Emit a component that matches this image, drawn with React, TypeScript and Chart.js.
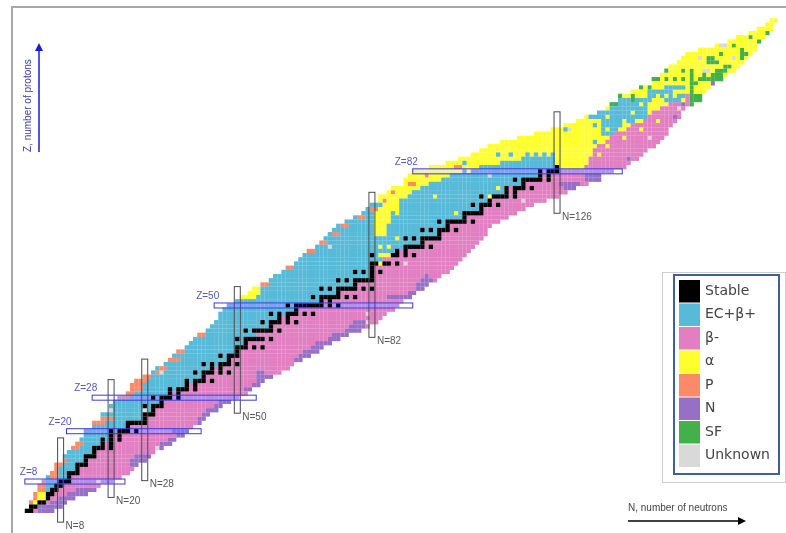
import React, { useEffect, useRef } from "react";
import { Chart, registerables } from "chart.js";

Chart.register(...registerables);

type Run = [number, number, number];

const legendLabels = ["Stable", "EC+β+", "β-", "α", "P", "N", "SF", "Unknown"];
const legendColors = ["#000000", "#56bad8", "#e27fc2", "#ffff2e", "#fb8a68", "#9570c6", "#43b14b", "#d9d9d9"];

// index 0 is Z=1
const nMinByZ = [0,1,1,2,2,3,3,4,5,6,7,7,9,9,10,11,12,13,14,14,16,16,18,18,20,20,21,23,24,25,25,26,28,30,31,33,34,35,36,38,39,40,41,43,44,45,46,46,47,48,50,51,53,54,56,58,59,61,62,64,65,66,67,69,70,71,72,73,74,76,78,80,81,82,84,84,86,87,90,90,91,92,96,100,103,106,108,110,113,117,121,125,128,131,133,136,138,139,141,142,144,147,149,150,151,152,153,155,156,157,160,164,167,169,172,174,176,177];
const nMaxByZ = [6,8,9,11,14,16,17,20,22,24,25,26,28,29,30,32,34,35,37,38,39,41,42,43,45,46,48,50,52,53,55,56,58,60,62,63,65,67,69,70,72,74,76,79,81,83,84,85,87,88,89,91,92,94,95,97,98,100,101,102,103,104,105,106,107,108,109,109,110,112,114,116,118,120,123,126,128,130,133,136,136,139,142,143,145,146,147,149,150,151,152,152,153,154,155,155,156,157,159,160,161,162,163,165,166,168,169,170,171,172,173,173,174,175,176,177,177,178];
const ecLastByZ = [-1,0,2,4,4,5,6,7,9,9,11,11,13,13,15,15,17,19,19,21,23,23,27,27,29,29,31,31,33,35,37,39,41,41,43,45,47,47,49,49,51,51,54,55,57,57,59,61,63,69,69,71,73,73,77,77,81,81,81,81,84,83,88,89,93,93,97,97,99,99,103,103,107,107,109,109,113,113,117,117,121,121,132,133,133,134,134,135,137,138,139,142,143,146,147,148,150,152,154,156,173,173,174,175,176,177,177,178,178,178,178,178,178,178,178,178,178,178];

const stableByZ: number[][] = [
  [0,1],[1,2],[3,4],[5],[5,6],[6,7],[7,8],[8,9,10],[10],[10,11,12],
  [12],[12,13,14],[14],[14,15,16],[16],[16,17,18,20],[18,20],[18,20,22],[20,22],[20,22,23,24,26],
  [24],[24,25,26,27,28],[28],[28,29,30],[30],[28,30,31,32],[32],[30,32,33,34,36],[34,36],[34,36,37,38,40],
  [38,40],[38,40,41,42,44],[42],[40,42,43,44,46,48],[44,46],[42,44,46,47,48,50],[48],[46,48,49,50],[50],[50,51,52,54,56],
  [52],[50,52,53,54,55,56,58],[],[52,54,55,56,57,58,60],[58],[56,58,59,60,62,64],[60,62],[58,60,62,63,64,66,68],[64],[62,64,65,66,67,68,69,70,72,74],
  [70,72],[68,70,71,72,73,74,76,78],[74],[70,72,74,75,76,77,78,80,82],[78],[74,76,78,79,80,81,82],[82],[78,80,82,84],[82],[82,83,85,86,88],
  [],[82,87,88,90,92],[88,90],[90,91,92,93,94,96],[94],[90,92,94,95,96,97,98],[98],[94,96,98,99,100,102],[100],[98,100,101,102,103,104,106],
  [104],[104,105,106,107,108],[108],[106,108,109,110,112],[110],[108,111,112,113,114,116],[114,116],[114,116,117,118,120],[118],[116,118,119,120,121,122,124],
  [122,124],[122,124,125,126],[126],
];

const alphaRuns: Run[] = [
  [3,2,2],[4,2,4],[5,3,4],[6,4,4],
  [52,51,54],[53,53,55],[54,54,55],
  [60,84,84],[62,84,86],[64,84,84],[64,86,86],[66,88,88],[63,88,88],
  [67,83,85],[68,83,85],[69,83,85],[70,83,86],[71,83,86],[72,83,86],[73,84,88],[74,85,88],
  [75,84,88],[76,84,90],[77,86,91],[78,87,93],[79,90,95],[80,90,98],[81,91,100],[82,92,103],
  [83,96,107],[83,127,132],[84,100,112],[84,126,133],[85,103,117],[85,126,133],[86,106,124],[86,126,134],
  [87,108,134],[88,110,135],[89,113,137],[90,117,138],[91,121,139],[92,125,142],[93,128,143],[94,131,146],[95,133,147],[96,136,148],
  [97,138,150],[98,139,152],[99,141,154],[100,142,156],[101,144,161],[102,147,162],[103,149,163],[104,150,165],[105,151,166],[106,152,168],
  [107,153,169],[108,155,170],[109,156,171],[110,157,172],[111,160,173],[112,164,173],[113,167,174],[114,169,175],[115,172,176],[116,174,177],[117,176,177],[118,177,178],
];

const ecIslandRuns: Run[] = [
  [91,137,139],[92,137,140],[93,137,141],[94,137,144],[95,134,147],[96,136,147],[97,139,147],[98,141,148],[99,141,148],[99,152,156],[100,148,156],[101,148,153],[102,152,156],
  [86,112,112],[86,115,115],[84,104,104],[84,113,113],[86,119,119],[86,121,121],[86,123,123],[92,128,128],[89,135,135],[93,135,135],
];

const alphaDotRuns: Run[] = [
  [72,88,88],[76,97,97],[78,112,112],[76,108,108],[76,110,110],[74,109,109],[72,102,102],[82,105,105],[82,122,122],
  [86,136,136],[88,138,138],[90,142,142],[92,146,146],[94,150,150],
  [95,138,138],[92,138,138],[94,142,142],[96,144,144],[98,146,146],[98,148,148],[100,150,150],[100,152,152],[100,154,154],[99,156,156],
];

const protonRuns: Run[] = [
  [3,1,1],[4,2,2],[5,2,2],[6,3,4],[7,3,4],[8,4,4],[9,6,7],[10,6,7],[11,7,7],[12,7,8],[13,9,9],[16,11,12],[17,12,13],[22,16,18],[23,18,20],
  [28,22,24],[29,24,25],[30,25,27],[31,25,27],[32,26,28],[33,28,29],[34,31,32],[35,32,33],[37,34,36],[39,36,37],[43,41,42],[55,56,57],
  [59,62,63],[63,67,68],[65,70,71],[67,73,74],[69,75,76],[71,79,80],[73,82,83],[75,85,85],[77,87,87],[79,91,92],[81,95,95],[83,102,103],
];

const neutronRuns: Run[] = [
  [1,3,6],[2,3,8],[3,6,9],[4,8,11],[5,10,14],[6,12,16],
  [12,25,26],[13,25,28],[14,26,29],[16,31,32],[17,32,34],[18,34,35],[19,36,37],[20,35,38],
  [22,41,41],[23,41,42],[24,42,43],[25,43,45],[26,45,46],[27,46,48],[30,52,53],[31,54,55],[32,55,56],[33,55,58],[34,55,56],
  [37,64,65],[38,65,67],[39,66,69],[40,68,70],[41,69,72],[42,72,74],[43,73,76],[44,76,79],[45,77,80],[46,78,81],
  [52,86,91],[53,91,92],[54,93,94],[55,93,95],[56,94,96],[57,95,95],
  [78,128,130],[79,127,131],[80,133,136],[81,133,136],[85,143,143],[95,154,154],[98,156,156],[103,163,163],
];

const fissionRuns: Run[] = [
  [106,152,152],[106,156,156],[104,149,150],[104,152,152],[104,154,154],[104,156,156],[102,146,146],[102,148,148],[100,141,141],[100,144,144],[99,144,144],[98,139,140],
  [98,158,158],[99,158,160],[100,158,160],[101,158,158],[102,158,158],[103,158,159],[104,158,158],[105,158,158],[106,158,158],
  [104,160,165],[105,161,161],[105,163,165],[106,164,166],[107,166,167],[108,162,164],[109,162,163],[110,165,165],[112,168,168],[109,170,170],[110,170,171],[111,170,170],[114,172,172],[113,174,174],[115,176,176],
];

const unknownRuns: Run[] = [
  [64,72,72],[60,90,90],[75,118,118],[81,110,110],[25,28,28],[25,20,20],[16,31,31],[8,17,17],[34,32,32],[48,81,81],[46,81,81],
  [109,160,160],[106,161,162],[112,165,166],[109,168,168],[97,155,155],[90,148,148],[92,129,129],
];

const magicZ = [8, 20, 28, 50, 82];
const magicZFrom = [-0.5, 9.4, 15.5, 44.5, 91.7];
const magicZTo = [23.3, 41.4, 54.5, 91.7, 141.5];
const magicZLabelShift = [5, 18, 18, 18, 18];
const magicN = [8, 20, 28, 50, 82, 126];
const magicNFrom = [-1.7, 4.2, 8.2, 24.3, 42.4, 72];
const magicNTo = [18.4, 32.3, 37.2, 54.5, 77, 96.2];

function buildDatasets() {
  const grid = new Map<string, number>();
  const put = (z: number, n: number, c: number) => grid.set(z + "," + n, c);
  nMinByZ.forEach((lo, i) => {
    const z = i + 1;
    for (let n = lo; n <= nMaxByZ[i]; n++) put(z, n, n <= ecLastByZ[i] ? 1 : 2);
  });
  const paint = (runs: Run[], c: number) =>
    runs.forEach(([z, a, b]) => {
      for (let n = a; n <= b; n++) put(z, n, c);
    });
  paint(alphaRuns, 3);
  paint(ecIslandRuns, 1);
  paint(alphaDotRuns, 3);
  paint(protonRuns, 4);
  paint(neutronRuns, 5);
  paint(fissionRuns, 6);
  paint(unknownRuns, 7);
  stableByZ.forEach((list, i) => list.forEach((n) => put(i + 1, n, 0)));
  const points: { x: number; y: number }[][] = legendLabels.map(() => []);
  grid.forEach((c, key) => {
    const [z, n] = key.split(",").map(Number);
    points[c].push({ x: n, y: z });
  });
  return legendLabels.map((label, i) => ({
    label,
    data: points[i],
    backgroundColor: legendColors[i],
    borderWidth: 0,
    pointStyle: "rect" as const,
    pointRadius: 3.05,
    pointHoverRadius: 3.05,
  }));
}

const FONT = '"Liberation Sans", Arial, sans-serif';

const decor = {
  id: "decor",
  beforeDraw(chart: any) {
    const c = chart.ctx;
    c.save();
    c.fillStyle = "#fff";
    c.fillRect(0, 0, chart.width, chart.height);
    c.restore();
  },
  afterDatasetsDraw(chart: any) {
    const c = chart.ctx;
    const px = chart.scales.x;
    const py = chart.scales.y;
    c.save();
    // vertical magic boxes
    magicN.forEach((n, i) => {
      const x = px.getPixelForValue(n);
      const top = py.getPixelForValue(magicNTo[i]);
      const bot = py.getPixelForValue(magicNFrom[i]);
      c.strokeStyle = "#4a4a4a";
      c.lineWidth = 1;
      c.strokeRect(x - 3, top, 6, bot - top);
      c.fillStyle = "#555";
      c.font = "10px " + FONT;
      c.textAlign = "left";
      c.textBaseline = "middle";
      c.fillText("N=" + n, x + 5, bot + 4);
    });
    // horizontal magic boxes
    magicZ.forEach((z, i) => {
      const y = py.getPixelForValue(z);
      const l = px.getPixelForValue(magicZFrom[i]);
      const r = px.getPixelForValue(magicZTo[i]);
      c.globalCompositeOperation = "color";
      c.globalAlpha = 0.65;
      c.fillStyle = "#3c3cff";
      c.fillRect(l, y - 2.5, r - l, 5);
      c.globalCompositeOperation = "source-over";
      c.globalAlpha = 1;
      c.strokeStyle = "#3a3ad8";
      c.lineWidth = 1;
      c.strokeRect(l, y - 2.5, r - l, 5);
      c.fillStyle = "#5555cc";
      c.font = "10px " + FONT;
      c.textAlign = "left";
      c.textBaseline = "middle";
      c.fillText("Z=" + z, l - magicZLabelShift[i], y - 9);
    });
    // frame
    c.strokeStyle = "#a8a8a8";
    c.lineWidth = 2;
    c.beginPath();
    c.moveTo(12, chart.height);
    c.lineTo(12, 7);
    c.lineTo(chart.width, 7);
    c.stroke();
    // axis arrows
    c.strokeStyle = "#1a1ae0";
    c.lineWidth = 1.5;
    c.beginPath();
    c.moveTo(39, 152);
    c.lineTo(39, 48);
    c.stroke();
    c.fillStyle = "#1a1ae0";
    c.beginPath();
    c.moveTo(39, 43);
    c.lineTo(35, 51);
    c.lineTo(43, 51);
    c.closePath();
    c.fill();
    c.save();
    c.translate(28, 152);
    c.rotate(-Math.PI / 2);
    c.fillStyle = "#3a3ab0";
    c.font = "10px " + FONT;
    c.textAlign = "left";
    c.textBaseline = "middle";
    c.fillText("Z, number of protons", 0, 0);
    c.restore();
    c.strokeStyle = "#000";
    c.lineWidth = 1.5;
    c.beginPath();
    c.moveTo(628, 521);
    c.lineTo(740, 521);
    c.stroke();
    c.fillStyle = "#000";
    c.beginPath();
    c.moveTo(746, 521);
    c.lineTo(738, 517);
    c.lineTo(738, 525);
    c.closePath();
    c.fill();
    c.fillStyle = "#444";
    c.font = "10px " + FONT;
    c.textAlign = "left";
    c.textBaseline = "middle";
    c.fillText("N, number of neutrons", 628, 508);
    // legend
    c.fillStyle = "#fff";
    c.fillRect(662, 272, 123, 210);
    c.strokeStyle = "#cfcfcf";
    c.lineWidth = 1;
    c.strokeRect(662.5, 272.5, 123, 210);
    c.strokeStyle = "#3f5f9f";
    c.lineWidth = 2;
    c.strokeRect(674, 275, 105, 199);
    legendLabels.forEach((label, i) => {
      const top = 280 + i * 23.5;
      c.fillStyle = legendColors[i];
      c.fillRect(679, top, 21, 22.5);
      c.fillStyle = "#444";
      c.font = '14px "DejaVu Sans", sans-serif';
      c.textAlign = "left";
      c.textBaseline = "middle";
      c.fillText(label, 705, top + 11);
    });
    c.restore();
  },
};

export default function App() {
  const ref = useRef<HTMLCanvasElement>(null);
  useEffect(() => {
    if (!ref.current) return;
    const chart = new Chart(ref.current, {
      type: "scatter",
      data: { datasets: buildDatasets() as any },
      options: {
        animation: false,
        responsive: false,
        devicePixelRatio: 1,
        layout: { padding: 0 },
        events: [],
        scales: {
          x: { display: false, type: "linear", min: -5.68, max: 179.7 },
          y: { display: false, type: "linear", min: -3.557, max: 122.15 },
        },
        plugins: { legend: { display: false }, tooltip: { enabled: false } },
      },
      plugins: [decor],
    } as any);
    return () => chart.destroy();
  }, []);
  return (
    <canvas
      ref={ref}
      width={786}
      height={533}
      style={{ position: "absolute", left: 0, top: 0, display: "block", filter: "blur(0.6px)" }}
    />
  );
}
